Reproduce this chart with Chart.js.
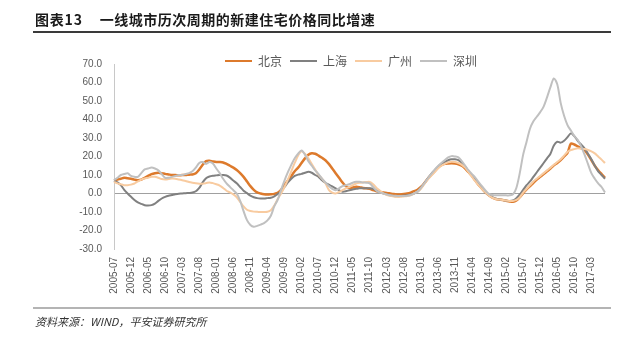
<!DOCTYPE html>
<html><head><meta charset="utf-8">
<script src="https://cdn.jsdelivr.net/npm/chart.js@4.4.0/dist/chart.umd.min.js"></script>
<style>
html,body{margin:0;padding:0;background:#fff;}
#wrap{position:relative;width:640px;height:340px;overflow:hidden;background:#fff;}
#c{position:absolute;left:0;top:0;width:640px;height:340px;}
.title{position:absolute;left:35px;top:10px;font:bold 14px "Noto Sans CJK SC",sans-serif;color:#1a1a1a;white-space:nowrap;line-height:18px;}
.rule1{position:absolute;left:33px;top:31px;width:578px;height:2px;background:#3a3a3a;}
.rule2{position:absolute;left:33px;top:307px;width:578px;height:2px;background:#b4b4b4;}
.src{position:absolute;left:35px;top:313px;font:italic 11px "Noto Sans CJK SC",sans-serif;color:#333;white-space:nowrap;line-height:16px;}
</style></head>
<body><div id="wrap">
<canvas id="c" width="640" height="340"></canvas>
<div class="title"><span style="letter-spacing:0.8px">图表13</span><span style="margin-left:17px;letter-spacing:0.5px">一线城市历次周期的新建住宅价格同比增速</span></div>
<div class="rule1"></div>
<div class="rule2"></div>
<div class="src">资料来源：WIND，平安证券研究所</div>
</div>
<script>
// categories: monthly, 2005-07 .. 2017-07
const categories = [];
for (let i = 0; i < 145; i++) {
  const y = 2005 + Math.floor((6 + i) / 12);
  const m = (6 + i) % 12 + 1;
  categories.push(y + '-' + (m < 10 ? '0' + m : '' + m));
}
const tickLabels = ['2005-07','2005-12','2006-05','2006-10','2007-03','2007-08','2008-01','2008-06','2008-11','2009-04','2009-09','2010-02','2010-07','2010-12','2011-05','2011-10','2012-03','2012-08','2013-01','2013-06','2013-11','2014-04','2014-09','2015-02','2015-07','2015-12','2016-05','2016-10','2017-03'];
const seriesNames = ['北京','上海','广州','深圳'];

const beijing = [
 7,7.5,8,8.5,8.2,8, 7.5,7.2,7.5,8.5,9.5,10.5, 11,11.2,11,10.6,10.3,10, 10,9.8,10,10,10.2,10.3,
 11,13,15.5,17.5,17.7,17.3, 17,17,16.8,16,15,14, 12.7,11,9,6.5,4,2, 0.6,0,-0.4,-0.5,-0.4,-0.2,
 0.3,2,4.5,7,9.5,12, 14,16.5,19,21,21.8,21.5, 20.5,19.3,18,16,13.5,11, 8.5,6,4,3,3.2,3.6,
 3.4,3,2.8,2.6,1.8,1.2, 0.8,0.5,0.3,0,-0.3,-0.5, -0.5,-0.3,0,0.5,1.2,2, 3.5,5.5,8,10,12,14,
 15.3,16,16.2,16.3,16.2,15.8, 15,13.5,11.5,9.5,7,4.5, 2.5,0.5,-1,-2.3,-3,-3.3, -3.5,-3.9,-4.3,-4.5,-3.8,-2,
 0.2,2.2,4,5.8,7.5,9, 10.5,12,13.5,15.2,16.5,18, 20,22,27,26.5,25.5,24.5, 23.5,21,18,15,12.6,10.5,
 8.5];
const shanghai = [
 7,6,4.5,2,0,-1.8, -3.5,-4.8,-5.6,-6.3,-6.5,-6.3, -5.5,-4,-2.7,-1.8,-1.2,-0.8, -0.4,-0.1,0,0.2,0.3,0.5,
 1.2,3,6,8.3,9.2,9.6, 9.8,10,10,9.7,8.6,7, 5.5,3.5,1.5,0.2,-1.2,-2, -2.5,-2.7,-2.7,-2.5,-2.3,-1.5,
 -0.3,1,3.5,6,8,9.5, 10.2,10.6,11.2,11.7,11.2,10, 9,7.2,5.8,4.8,3.8,2.8, 1.8,1,1.2,1.8,2.2,2.5,
 2.8,2.8,2.8,2.8,2.5,1.5, 0.8,0,-0.5,-1,-1.4,-1.5, -1.4,-1.1,-0.9,-0.5,0,1, 3,5.5,8,10.5,12.5,14.5,
 16,17,18,18.5,18.5,18, 16.5,14.5,12,9.5,7,4.8, 2.5,0.5,-1,-2,-2.8,-3.2, -3.5,-3.8,-4,-3.8,-2.5,-0.5,
 2,4.5,6.5,9,11.5,14, 16.5,19,21.5,26,28,27.5, 28.5,30.5,32.5,31,28.5,26.5, 24.4,21.5,18.5,15,12,10,
 8];
const guangzhou = [
 6.3,5.5,5,4.5,4.5,4.8, 5.4,6.5,7.5,8.1,8.5,9, 9,8.5,7.8,7.6,7.8,8.1, 8,7.6,7.2,6.8,6.2,5.8,
 5.5,5.3,5.3,5.6,6,5.6, 5,4.3,3,1.5,0.6,-0.5, -2,-4.5,-7,-8.8,-9.5,-9.8, -9.9,-10,-10,-9.9,-9,-6.5,
 -3,0,3.5,7.5,12,16.5, 20.5,22.8,21.5,19,16,13, 10,8,5.5,2,0.5,0, 0.8,1.8,2.8,3.5,4.5,5.4,
 5.8,6,6.2,6.3,5,3, 1.5,0,-0.8,-1.2,-1.6,-1.8, -1.8,-1.6,-1.4,-1,0,1, 2.5,5,7.5,9.5,11.5,13.5,
 15,16,16.8,17.2,17,16.5, 15.5,14,11.5,9,6.5,4.3, 2.3,0.5,-1.2,-2.3,-3,-3.3, -3.5,-3.8,-4,-4,-3.5,-2,
 0.5,2.5,4.5,6.5,8,9.5, 11,12.5,14,15.5,17,18.5, 20.5,22.5,23.5,24,24.4,24.2, 24,23.5,22.8,21.7,20,18.3,
 16.5];
const shenzhen = [
 7.2,8.5,10,10.5,10.9,9.5, 9,9,11,13,13.5,14, 13.5,12.5,10.5,8.5,8.5,9, 9.5,10,10,10.5,11,12,
 14,16.5,17,16,17,16.2, 13.5,11,8,5.5,3.6,1.8, 0,-4,-9.5,-14.4,-17,-18, -17.5,-16.8,-16,-14.5,-12,-7,
 -3.5,2,7,11.5,15.5,19, 21.5,23.2,21,17.5,15,12.5, 10.5,8,6,4,2.5,1.8, 2.8,4,4.5,5,5.8,6.3,
 6.3,6,5.8,5.5,3.5,1.5, 0.5,0,-0.5,-0.9,-1.2,-1.3, -1.4,-1.4,-1.2,-0.8,0,1, 3,5.5,8.1,10.5,12.8,14.8,
 16.5,18,19.5,20.2,20,19.5, 17.5,15,12.5,10.5,8.5,6, 3.8,1.5,-0.3,-0.8,-1,-1, -1,-1,-1,-0.5,3,11,
 21,28,35,39,41.5,44, 47,52,57.5,62.2,59,49, 42,37,34,31,29,25.5, 21,16,11,8,5.5,3.5,
 0.5];

const yMin = -30, yMax = 70, yStep = 10;
const colors = ['#DD7A2C','#808080','#F8CBA0','#C0C0C0'];
const widths = [2.5,2,2,2];
const values = [beijing, shanghai, guangzhou, shenzhen];

const tickFont = {family: "'Liberation Sans Narrow','Arial Narrow','Liberation Sans',sans-serif", size: 10};

const legendMover = {
  id: 'legendMover',
  afterLayout(chart) {
    const lg = chart.legend;
    if (!lg) return;
    lg.left = 217; lg.right = 640; lg.top = 47; lg.bottom = 80;
  }
};

new Chart(document.getElementById('c'), {
  type: 'line',
  data: {
    labels: categories,
    datasets: seriesNames.map((n, k) => ({
      label: n, data: values[k], borderColor: colors[k], backgroundColor: colors[k],
      borderWidth: widths[k], pointRadius: 0, pointHoverRadius: 0, tension: 0.3,
      fill: false, order: 4 - k
    }))
  },
  options: {
    responsive: false, animation: false,
    layout: {padding: {top: 44, left: 0, right: 35, bottom: 0}},
    plugins: {
      tooltip: {enabled: false},
      title: {display: false},
      legend: {
        display: true, position: 'top', align: 'start', maxHeight: 20,
        labels: {
          boxWidth: 27, boxHeight: 2, padding: 8, color: '#595959',
          font: {family: "'Noto Sans CJK SC',sans-serif", size: 12},
          sort: (a, b) => a.datasetIndex - b.datasetIndex,
          generateLabels: (chart) => Chart.defaults.plugins.legend.labels.generateLabels(chart)
            .map(l => Object.assign(l, {fillStyle: l.strokeStyle, lineWidth: 0}))
        }
      }
    },
    scales: {
      x: {
        grid: {display: false, drawTicks: false},
        border: {display: false},
        ticks: {
          autoSkip: false, maxRotation: 90, minRotation: 90, padding: 8,
          color: '#595959', font: tickFont,
          callback: function(v, i) { const lab = categories[i]; return tickLabels.includes(lab) ? lab : ''; }
        },
        afterFit: (s) => { s.height = 91; }
      },
      y: {
        min: yMin, max: yMax,
        grid: {
          drawTicks: false, lineWidth: 1,
          color: (ctx) => (ctx.tick && ctx.tick.value === 0) ? '#a0a0a0' : 'rgba(0,0,0,0)'
        },
        border: {display: true, color: '#c8c8c8', width: 1},
        ticks: {stepSize: yStep, padding: 12, color: '#595959', font: tickFont,
          callback: (v) => Number(v).toFixed(1)},
        afterFit: (s) => { s.width = 114; }
      }
    }
  },
  plugins: [legendMover]
});
</script>
</body></html>
